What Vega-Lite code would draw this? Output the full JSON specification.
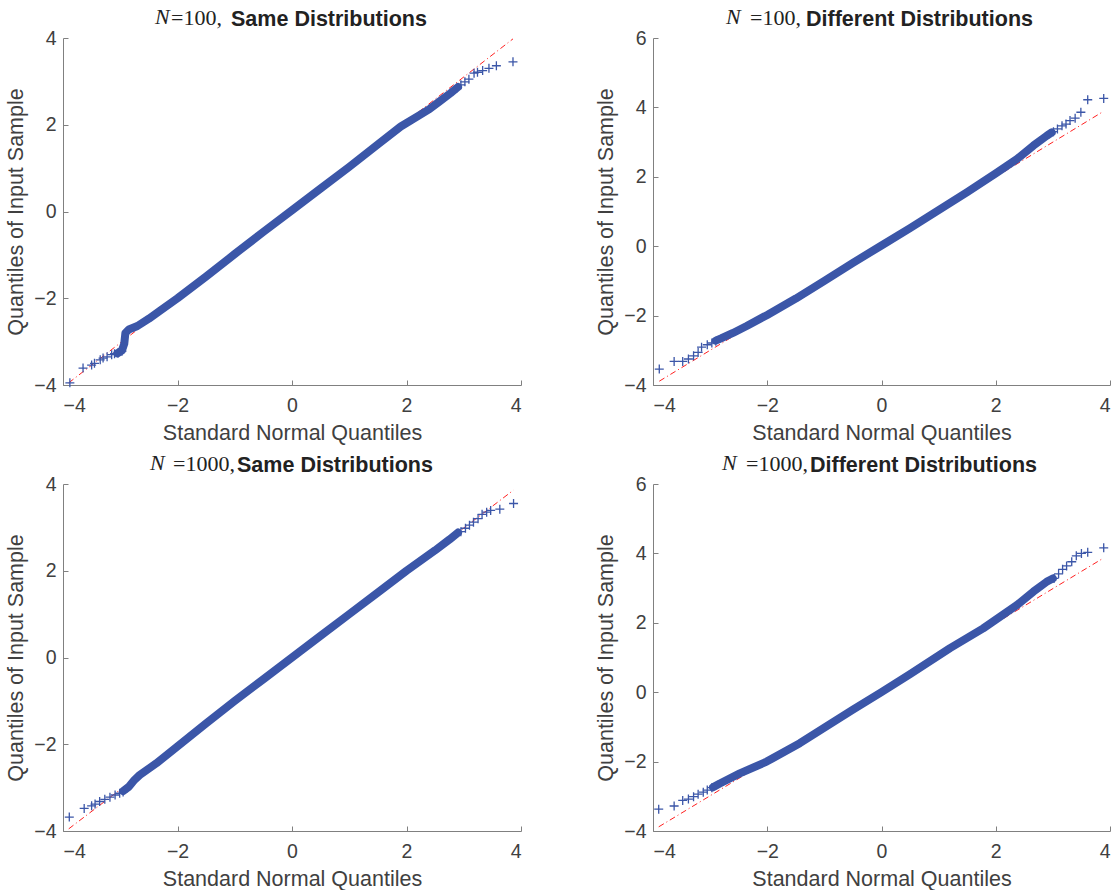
{
  "$schema": "https://vega.github.io/schema/vega-lite/v6.json",
  "background": "white",
  "padding": {"left": 5, "top": 5, "right": 0, "bottom": 0},
  "datasets": {
    "p1": [
      {"k": "ref", "x": -3.9, "y": -3.95}, {"k": "ref", "x": 3.86, "y": 3.98},
      {"k": "body", "x": -3.05, "y": -3.27}, {"k": "body", "x": -2.97, "y": -3.2}, {"k": "body", "x": -2.93, "y": -3.05},
      {"k": "body", "x": -2.91, "y": -2.8}, {"k": "body", "x": -2.85, "y": -2.72}, {"k": "body", "x": -2.7, "y": -2.64},
      {"k": "body", "x": -2.5, "y": -2.47}, {"k": "body", "x": -2.3, "y": -2.28}, {"k": "body", "x": -2.0, "y": -2.0},
      {"k": "body", "x": -1.5, "y": -1.5}, {"k": "body", "x": -1.0, "y": -0.98}, {"k": "body", "x": -0.5, "y": -0.47},
      {"k": "body", "x": 0.0, "y": 0.03}, {"k": "body", "x": 0.5, "y": 0.53}, {"k": "body", "x": 1.0, "y": 1.03},
      {"k": "body", "x": 1.5, "y": 1.55}, {"k": "body", "x": 1.9, "y": 1.96}, {"k": "body", "x": 2.2, "y": 2.2},
      {"k": "body", "x": 2.4, "y": 2.36}, {"k": "body", "x": 2.57, "y": 2.53}, {"k": "body", "x": 2.77, "y": 2.73},
      {"k": "body", "x": 2.9, "y": 2.87},
      {"k": "pt", "x": -3.88, "y": -3.95}, {"k": "pt", "x": -3.65, "y": -3.61}, {"k": "pt", "x": -3.5, "y": -3.54},
      {"k": "pt", "x": -3.45, "y": -3.5}, {"k": "pt", "x": -3.35, "y": -3.42}, {"k": "pt", "x": -3.3, "y": -3.38},
      {"k": "pt", "x": -3.23, "y": -3.35}, {"k": "pt", "x": -3.15, "y": -3.3}, {"k": "pt", "x": -3.1, "y": -3.28},
      {"k": "pt", "x": -3.04, "y": -3.26}, {"k": "pt", "x": -2.97, "y": -3.22},
      {"k": "pt", "x": 2.88, "y": 2.85}, {"k": "pt", "x": 2.95, "y": 2.92}, {"k": "pt", "x": 3.02, "y": 2.99},
      {"k": "pt", "x": 3.09, "y": 3.05}, {"k": "pt", "x": 3.18, "y": 3.19}, {"k": "pt", "x": 3.24, "y": 3.21},
      {"k": "pt", "x": 3.33, "y": 3.25}, {"k": "pt", "x": 3.44, "y": 3.3}, {"k": "pt", "x": 3.57, "y": 3.36},
      {"k": "pt", "x": 3.86, "y": 3.45}
    ],
    "p2": [
      {"k": "ref", "x": -3.89, "y": -3.89}, {"k": "ref", "x": 3.86, "y": 3.86},
      {"k": "body", "x": -2.9, "y": -2.72}, {"k": "body", "x": -2.8, "y": -2.65}, {"k": "body", "x": -2.6, "y": -2.5},
      {"k": "body", "x": -2.36, "y": -2.3}, {"k": "body", "x": -2.0, "y": -1.98}, {"k": "body", "x": -1.5, "y": -1.51},
      {"k": "body", "x": -1.0, "y": -1.0}, {"k": "body", "x": -0.5, "y": -0.48}, {"k": "body", "x": 0.0, "y": 0.02},
      {"k": "body", "x": 0.5, "y": 0.52}, {"k": "body", "x": 1.0, "y": 1.04}, {"k": "body", "x": 1.5, "y": 1.56},
      {"k": "body", "x": 1.78, "y": 1.86}, {"k": "body", "x": 2.0, "y": 2.1}, {"k": "body", "x": 2.37, "y": 2.51},
      {"k": "body", "x": 2.66, "y": 2.9}, {"k": "body", "x": 2.89, "y": 3.18}, {"k": "body", "x": 2.98, "y": 3.28},
      {"k": "pt", "x": -3.89, "y": -3.54}, {"k": "pt", "x": -3.63, "y": -3.32}, {"k": "pt", "x": -3.48, "y": -3.32},
      {"k": "pt", "x": -3.38, "y": -3.25}, {"k": "pt", "x": -3.29, "y": -3.16}, {"k": "pt", "x": -3.21, "y": -3.06},
      {"k": "pt", "x": -3.15, "y": -2.91}, {"k": "pt", "x": -3.05, "y": -2.84}, {"k": "pt", "x": -2.97, "y": -2.79},
      {"k": "pt", "x": -2.9, "y": -2.74},
      {"k": "pt", "x": 3.01, "y": 3.3}, {"k": "pt", "x": 3.08, "y": 3.38}, {"k": "pt", "x": 3.16, "y": 3.47},
      {"k": "pt", "x": 3.23, "y": 3.52}, {"k": "pt", "x": 3.3, "y": 3.62}, {"k": "pt", "x": 3.39, "y": 3.69},
      {"k": "pt", "x": 3.49, "y": 3.86}, {"k": "pt", "x": 3.61, "y": 4.22}, {"k": "pt", "x": 3.89, "y": 4.26}
    ],
    "p3": [
      {"k": "ref", "x": -3.9, "y": -3.95}, {"k": "ref", "x": 3.87, "y": 3.86},
      {"k": "body", "x": -2.95, "y": -3.08}, {"k": "body", "x": -2.85, "y": -2.98}, {"k": "body", "x": -2.75, "y": -2.82},
      {"k": "body", "x": -2.66, "y": -2.71}, {"k": "body", "x": -2.37, "y": -2.44}, {"k": "body", "x": -2.0, "y": -2.05},
      {"k": "body", "x": -1.5, "y": -1.52}, {"k": "body", "x": -1.0, "y": -1.0}, {"k": "body", "x": -0.5, "y": -0.5},
      {"k": "body", "x": 0.0, "y": 0.0}, {"k": "body", "x": 0.5, "y": 0.5}, {"k": "body", "x": 1.0, "y": 1.0},
      {"k": "body", "x": 1.5, "y": 1.5}, {"k": "body", "x": 2.0, "y": 2.0}, {"k": "body", "x": 2.5, "y": 2.47},
      {"k": "body", "x": 2.75, "y": 2.72}, {"k": "body", "x": 2.9, "y": 2.88},
      {"k": "pt", "x": -3.89, "y": -3.68}, {"k": "pt", "x": -3.63, "y": -3.48}, {"k": "pt", "x": -3.5, "y": -3.42},
      {"k": "pt", "x": -3.44, "y": -3.38}, {"k": "pt", "x": -3.36, "y": -3.32}, {"k": "pt", "x": -3.27, "y": -3.27},
      {"k": "pt", "x": -3.18, "y": -3.22}, {"k": "pt", "x": -3.09, "y": -3.17}, {"k": "pt", "x": -3.01, "y": -3.13},
      {"k": "pt", "x": -2.95, "y": -3.1},
      {"k": "pt", "x": 2.95, "y": 2.9}, {"k": "pt", "x": 3.03, "y": 2.98}, {"k": "pt", "x": 3.1, "y": 3.05},
      {"k": "pt", "x": 3.17, "y": 3.12}, {"k": "pt", "x": 3.25, "y": 3.2}, {"k": "pt", "x": 3.32, "y": 3.3},
      {"k": "pt", "x": 3.4, "y": 3.35}, {"k": "pt", "x": 3.47, "y": 3.39}, {"k": "pt", "x": 3.63, "y": 3.42},
      {"k": "pt", "x": 3.87, "y": 3.55}
    ],
    "p4": [
      {"k": "ref", "x": -3.9, "y": -3.88}, {"k": "ref", "x": 3.88, "y": 3.86},
      {"k": "body", "x": -2.95, "y": -2.74}, {"k": "body", "x": -2.83, "y": -2.63}, {"k": "body", "x": -2.48, "y": -2.34},
      {"k": "body", "x": -2.01, "y": -2.0}, {"k": "body", "x": -1.43, "y": -1.47}, {"k": "body", "x": -1.0, "y": -1.02},
      {"k": "body", "x": -0.5, "y": -0.5}, {"k": "body", "x": 0.0, "y": 0.0}, {"k": "body", "x": 0.5, "y": 0.52},
      {"k": "body", "x": 1.2, "y": 1.27}, {"k": "body", "x": 1.78, "y": 1.84}, {"k": "body", "x": 2.37, "y": 2.51},
      {"k": "body", "x": 2.66, "y": 2.9}, {"k": "body", "x": 2.89, "y": 3.18}, {"k": "body", "x": 3.0, "y": 3.28},
      {"k": "pt", "x": -3.9, "y": -3.37}, {"k": "pt", "x": -3.63, "y": -3.28}, {"k": "pt", "x": -3.48, "y": -3.12},
      {"k": "pt", "x": -3.38, "y": -3.08}, {"k": "pt", "x": -3.29, "y": -3.01}, {"k": "pt", "x": -3.21, "y": -2.94},
      {"k": "pt", "x": -3.12, "y": -2.88}, {"k": "pt", "x": -3.05, "y": -2.82}, {"k": "pt", "x": -2.97, "y": -2.75},
      {"k": "pt", "x": 3.02, "y": 3.28}, {"k": "pt", "x": 3.1, "y": 3.41}, {"k": "pt", "x": 3.17, "y": 3.54},
      {"k": "pt", "x": 3.24, "y": 3.64}, {"k": "pt", "x": 3.33, "y": 3.76}, {"k": "pt", "x": 3.41, "y": 3.93},
      {"k": "pt", "x": 3.5, "y": 4.0}, {"k": "pt", "x": 3.61, "y": 4.03}, {"k": "pt", "x": 3.89, "y": 4.16}
    ]
  },
  "columns": 2,
  "spacing": {"row": 7, "column": 73},
  "concat": [
    {
      "title": {"text": "N", "font": "Liberation Serif", "fontStyle": "italic", "fontWeight": "normal", "fontSize": 22, "anchor": "start", "frame": "group", "offset": 0, "dx": 92, "dy": 21.5},
      "vconcat": [{
        "title": {"text": "=100,", "font": "Liberation Serif", "fontWeight": "normal", "fontSize": 22, "anchor": "start", "frame": "group", "offset": 0, "dx": 108, "dy": 21.5},
        "vconcat": [{
          "title": {"text": "Same Distributions", "dx": 37},
          "width": 458, "height": 347,
          "data": {"name": "p1"},
          "layer": [
            {"transform": [{"filter": "datum.k === 'ref'"}], "mark": {"type": "line", "color": "#ff2020", "strokeWidth": 1, "strokeDash": [6, 3, 1, 3]},
             "encoding": {"x": {"field": "x", "type": "quantitative", "scale": {"domain": [-4, 4], "nice": false, "zero": false}, "axis": {"values": [-4, -2, 0, 2, 4], "format": "d", "title": "Standard Normal Quantiles"}},
                          "y": {"field": "y", "type": "quantitative", "scale": {"domain": [-4, 4], "nice": false, "zero": false}, "axis": {"values": [-4, -2, 0, 2, 4], "format": "d", "title": "Quantiles of Input Sample"}}}},
            {"transform": [{"filter": "datum.k === 'body'"}], "mark": {"type": "line", "color": "#3b56a8", "strokeWidth": 8, "strokeCap": "round", "strokeJoin": "round"},
             "encoding": {"x": {"field": "x", "type": "quantitative"}, "y": {"field": "y", "type": "quantitative"}}},
            {"transform": [{"filter": "datum.k === 'pt'"}], "mark": {"type": "point", "shape": "M-1,0L1,0M0,-1L0,1", "size": 81, "filled": false, "color": "#3b56a8", "strokeWidth": 1.3, "opacity": 1},
             "encoding": {"x": {"field": "x", "type": "quantitative"}, "y": {"field": "y", "type": "quantitative"}}}
          ]
        }]
      }]
    },
    {
      "title": {"text": "N", "font": "Liberation Serif", "fontStyle": "italic", "fontWeight": "normal", "fontSize": 22, "anchor": "start", "frame": "group", "offset": 0, "dx": 73, "dy": 21.5},
      "vconcat": [{
        "title": {"text": "=100,", "font": "Liberation Serif", "fontWeight": "normal", "fontSize": 22, "anchor": "start", "frame": "group", "offset": 0, "dx": 97, "dy": 21.5},
        "vconcat": [{
          "title": {"text": "Different Distributions", "dx": 38},
          "width": 457, "height": 347,
          "data": {"name": "p2"},
          "layer": [
            {"transform": [{"filter": "datum.k === 'ref'"}], "mark": {"type": "line", "color": "#ff2020", "strokeWidth": 1, "strokeDash": [6, 3, 1, 3]},
             "encoding": {"x": {"field": "x", "type": "quantitative", "scale": {"domain": [-4, 4], "nice": false, "zero": false}, "axis": {"values": [-4, -2, 0, 2, 4], "format": "d", "title": "Standard Normal Quantiles"}},
                          "y": {"field": "y", "type": "quantitative", "scale": {"domain": [-4, 6], "nice": false, "zero": false}, "axis": {"values": [-4, -2, 0, 2, 4, 6], "format": "d", "title": "Quantiles of Input Sample"}}}},
            {"transform": [{"filter": "datum.k === 'body'"}], "mark": {"type": "line", "color": "#3b56a8", "strokeWidth": 8, "strokeCap": "round", "strokeJoin": "round"},
             "encoding": {"x": {"field": "x", "type": "quantitative"}, "y": {"field": "y", "type": "quantitative"}}},
            {"transform": [{"filter": "datum.k === 'pt'"}], "mark": {"type": "point", "shape": "M-1,0L1,0M0,-1L0,1", "size": 81, "filled": false, "color": "#3b56a8", "strokeWidth": 1.3, "opacity": 1},
             "encoding": {"x": {"field": "x", "type": "quantitative"}, "y": {"field": "y", "type": "quantitative"}}}
          ]
        }]
      }]
    },
    {
      "title": {"text": "N", "font": "Liberation Serif", "fontStyle": "italic", "fontWeight": "normal", "fontSize": 22, "anchor": "start", "frame": "group", "offset": 0, "dx": 87, "dy": 21.5},
      "vconcat": [{
        "title": {"text": "=1000,", "font": "Liberation Serif", "fontWeight": "normal", "fontSize": 22, "anchor": "start", "frame": "group", "offset": 0, "dx": 110, "dy": 21.5},
        "vconcat": [{
          "title": {"text": "Same Distributions", "dx": 43},
          "width": 458, "height": 347,
          "data": {"name": "p3"},
          "layer": [
            {"transform": [{"filter": "datum.k === 'ref'"}], "mark": {"type": "line", "color": "#ff2020", "strokeWidth": 1, "strokeDash": [6, 3, 1, 3]},
             "encoding": {"x": {"field": "x", "type": "quantitative", "scale": {"domain": [-4, 4], "nice": false, "zero": false}, "axis": {"values": [-4, -2, 0, 2, 4], "format": "d", "title": "Standard Normal Quantiles"}},
                          "y": {"field": "y", "type": "quantitative", "scale": {"domain": [-4, 4], "nice": false, "zero": false}, "axis": {"values": [-4, -2, 0, 2, 4], "format": "d", "title": "Quantiles of Input Sample"}}}},
            {"transform": [{"filter": "datum.k === 'body'"}], "mark": {"type": "line", "color": "#3b56a8", "strokeWidth": 8, "strokeCap": "round", "strokeJoin": "round"},
             "encoding": {"x": {"field": "x", "type": "quantitative"}, "y": {"field": "y", "type": "quantitative"}}},
            {"transform": [{"filter": "datum.k === 'pt'"}], "mark": {"type": "point", "shape": "M-1,0L1,0M0,-1L0,1", "size": 81, "filled": false, "color": "#3b56a8", "strokeWidth": 1.3, "opacity": 1},
             "encoding": {"x": {"field": "x", "type": "quantitative"}, "y": {"field": "y", "type": "quantitative"}}}
          ]
        }]
      }]
    },
    {
      "title": {"text": "N", "font": "Liberation Serif", "fontStyle": "italic", "fontWeight": "normal", "fontSize": 22, "anchor": "start", "frame": "group", "offset": 0, "dx": 69, "dy": 21.5},
      "vconcat": [{
        "title": {"text": "=1000,", "font": "Liberation Serif", "fontWeight": "normal", "fontSize": 22, "anchor": "start", "frame": "group", "offset": 0, "dx": 93, "dy": 21.5},
        "vconcat": [{
          "title": {"text": "Different Distributions", "dx": 42},
          "width": 457, "height": 347,
          "data": {"name": "p4"},
          "layer": [
            {"transform": [{"filter": "datum.k === 'ref'"}], "mark": {"type": "line", "color": "#ff2020", "strokeWidth": 1, "strokeDash": [6, 3, 1, 3]},
             "encoding": {"x": {"field": "x", "type": "quantitative", "scale": {"domain": [-4, 4], "nice": false, "zero": false}, "axis": {"values": [-4, -2, 0, 2, 4], "format": "d", "title": "Standard Normal Quantiles"}},
                          "y": {"field": "y", "type": "quantitative", "scale": {"domain": [-4, 6], "nice": false, "zero": false}, "axis": {"values": [-4, -2, 0, 2, 4, 6], "format": "d", "title": "Quantiles of Input Sample"}}}},
            {"transform": [{"filter": "datum.k === 'body'"}], "mark": {"type": "line", "color": "#3b56a8", "strokeWidth": 8, "strokeCap": "round", "strokeJoin": "round"},
             "encoding": {"x": {"field": "x", "type": "quantitative"}, "y": {"field": "y", "type": "quantitative"}}},
            {"transform": [{"filter": "datum.k === 'pt'"}], "mark": {"type": "point", "shape": "M-1,0L1,0M0,-1L0,1", "size": 81, "filled": false, "color": "#3b56a8", "strokeWidth": 1.3, "opacity": 1},
             "encoding": {"x": {"field": "x", "type": "quantitative"}, "y": {"field": "y", "type": "quantitative"}}}
          ]
        }]
      }]
    }
  ],
  "config": {
    "view": {"stroke": null},
    "title": {"font": "Liberation Sans", "fontSize": 21.5, "fontWeight": "bold", "color": "#222222", "offset": -2},
    "axis": {
      "grid": false,
      "labelFont": "Liberation Sans", "labelFontSize": 19.5, "labelColor": "#404040",
      "titleFont": "Liberation Sans", "titleFontSize": 21.5, "titleFontWeight": "normal", "titleColor": "#404040",
      "domainColor": "#808080", "tickColor": "#808080", "tickSize": -5, "domainWidth": 1, "tickWidth": 1
    },
    "axisX": {"labelPadding": 16, "titlePadding": 8},
    "axisY": {"labelPadding": 12, "titlePadding": 6}
  }
}
